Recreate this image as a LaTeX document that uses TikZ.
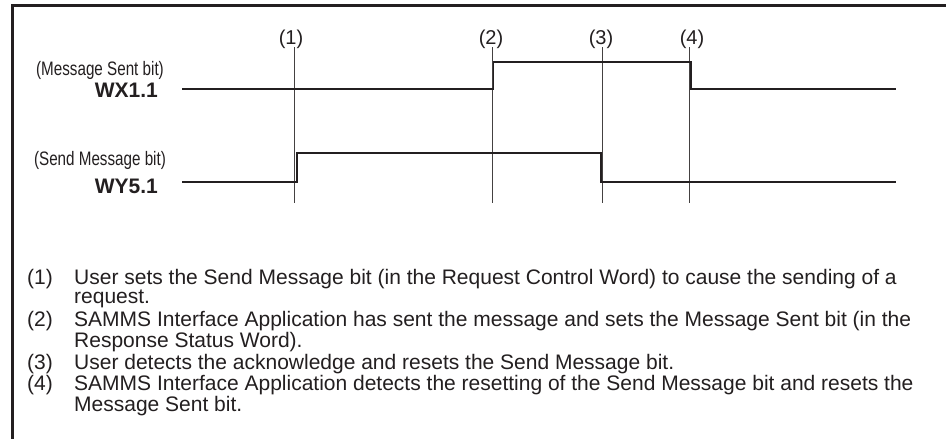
\documentclass[tikz,border=0pt]{standalone}
\usepackage{fontspec}
\setmainfont{Liberation Sans}
\newfontfamily\narrowfont[FakeStretch=0.78]{Liberation Sans}
\definecolor{ink}{HTML}{231F20}
\begin{document}
\begin{tikzpicture}[x=1pt,y=-1pt,
  txt/.style={inner sep=0pt, text=ink, font=\fontsize{21}{22}\selectfont},
  lbl/.style={inner sep=0pt, text=ink, font=\fontsize{20}{22}\selectfont},
  sig/.style={inner sep=0pt, text=ink, font=\narrowfont\fontsize{19.5}{22}\selectfont},
  sigb/.style={inner sep=0pt, text=ink, font=\fontsize{21}{22}\selectfont\bfseries},
  frame/.style={draw=ink, line width=2.4pt},
  wave/.style={draw=ink, line width=1.2pt},
  marker/.style={draw=ink!85, line width=1pt}]
\useasboundingbox (0,0) rectangle (946,439);
\path[fill=white] (0,0) rectangle (946,439);
% frame (cropped at right and bottom)
\draw[frame] (12.5,439) -- (12.5,5.5) -- (946,5.5);

% event labels and marker lines
\node[lbl, anchor=base] (l1) at (291,45) {(1)};
\node[lbl, anchor=base] (l2) at (491,45) {(2)};
\node[lbl, anchor=base] (l3) at (601,45) {(3)};
\node[lbl, anchor=base] (l4) at (692,45) {(4)};
\coordinate (m1t) at (294.5,47); \coordinate (m1b) at (294.5,203);
\coordinate (m2t) at (492,47);   \coordinate (m2b) at (492,203);
\coordinate (m3t) at (602.5,47); \coordinate (m3b) at (602.5,203);
\coordinate (m4t) at (689.5,47); \coordinate (m4b) at (689.5,203);
\draw[marker] (m1t) -- (m1b);
\draw[marker] (m2t) -- (m2b);
\draw[marker] (m3t) -- (m3b);
\draw[marker] (m4t) -- (m4b);

% signal names
\node[sig, anchor=base] (msb) at (100,75.5) {(Message Sent bit)};
\node[sigb, anchor=base east] (wx) at (158,97) {WX1.1};
\node[sig, anchor=base] (smb) at (100,165.5) {(Send Message bit)};
\node[sigb, anchor=base east] (wy) at (158,193) {WY5.1};

% waveforms
\coordinate (wxs) at (182,89);  \coordinate (wxe) at (896,89);
\coordinate (wys) at (182,182); \coordinate (wye) at (896,182);
\draw[wave] (wxs) -- (493.5,89) -- (493.5,62) -- (691,62) -- (691,89) -- (wxe);
\draw[wave] (wys) -- (297,182) -- (297,153) -- (601,153) -- (601,182) -- (wye);

% notes
\node[txt, anchor=base west] (n1) at (27,284) {(1)};
\node[txt, anchor=base west] (t1a) at (74,284) {User sets the Send Message bit (in the Request Control Word) to cause the sending of a};
\node[txt, anchor=base west] (t1b) at (74,303) {request.};
\node[txt, anchor=base west] (n2) at (27,326) {(2)};
\node[txt, anchor=base west] (t2a) at (74,326) {SAMMS Interface Application has sent the message and sets the Message Sent bit (in the};
\node[txt, anchor=base west] (t2b) at (74,347) {Response Status Word).};
\node[txt, anchor=base west] (n3) at (27,369) {(3)};
\node[txt, anchor=base west] (t3a) at (74,369) {User detects the acknowledge and resets the Send Message bit.};
\node[txt, anchor=base west] (n4) at (27,390) {(4)};
\node[txt, anchor=base west] (t4a) at (74,390) {SAMMS Interface Application detects the resetting of the Send Message bit and resets the};
\node[txt, anchor=base west] (t4b) at (74,411) {Message Sent bit.};
\end{tikzpicture}
\end{document}
